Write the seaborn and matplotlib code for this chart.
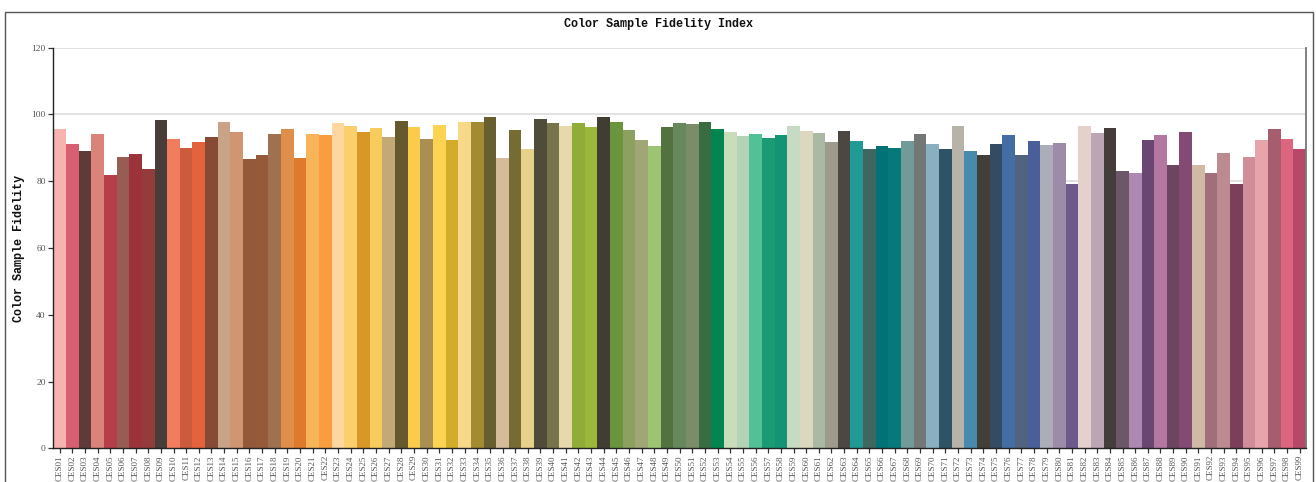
import matplotlib
matplotlib.use("Agg")
import matplotlib.pyplot as plt
import seaborn as sns
import pandas as pd
from matplotlib.patches import Rectangle

categories = [f"CES{i:02d}" for i in range(1, 100)]

values = [
    95.7, 91.2, 89.0, 94.2, 81.8, 87.2, 88.1, 83.6, 98.4, 92.7,
    90.0, 91.8, 93.3, 97.8, 94.8, 86.6, 87.8, 94.2, 95.7, 86.9,
    94.2, 93.9, 97.5, 96.6, 94.8, 96.0, 93.3, 98.1, 96.3, 92.7,
    96.9, 92.4, 97.8, 97.8, 99.3, 86.9, 95.4, 89.6, 98.7, 97.5,
    96.6, 97.5, 96.3, 99.3, 97.8, 95.4, 92.4, 90.6, 96.3, 97.5,
    97.2, 97.8, 95.7, 94.8, 93.6, 94.2, 93.0, 93.9, 96.6, 95.1,
    94.5, 91.8, 95.1, 92.1, 89.6, 90.6, 90.0, 92.1, 94.2, 91.2,
    89.6, 96.6, 89.0, 87.8, 91.2, 93.9, 87.8, 92.1, 90.9, 91.5,
    79.1, 96.6, 94.5, 96.0, 83.0, 82.4, 92.4, 93.9, 84.8, 94.8,
    84.8, 82.4, 88.4, 79.1, 87.2, 92.4, 95.7, 92.7, 89.6,
]

colors = [
    "#f7b3b0", "#d65f72", "#5e3a39", "#d9837b", "#b63e4a", "#975c53", "#9c323a", "#943b3b", "#473d39", "#f27c5e",
    "#cc5a3c", "#e5623e", "#874a34", "#c8a388", "#d09571", "#93593a", "#955a39", "#a07150", "#e08f4a", "#df792b",
    "#f8b458", "#f99d40", "#fdd6a0", "#fbd06c", "#d99728", "#f7cb5c", "#c2a975", "#67592e", "#fbcb4c", "#a98f52",
    "#fcd452", "#d3ac2c", "#f8d98a", "#a38b32", "#685f31", "#d4bc9a", "#756c33", "#e6d28b", "#4f4c3a", "#77734a",
    "#e7d9ac", "#92ac3a", "#9db73b", "#413d33", "#6b943e", "#8ca160", "#a1a676", "#9cc472", "#527340", "#67875d",
    "#7a8c68", "#396c41", "#028550", "#c9ddbb", "#b4d2b6", "#52c196", "#1a9b73", "#149474", "#c7dbc3", "#dcd7bf",
    "#aab9a3", "#9e9b8e", "#4d4743", "#209a94", "#3f665f", "#017275", "#08797b", "#729a99", "#737877", "#89afc0",
    "#2e5365", "#b7b3a8", "#488aad", "#433f38", "#344b64", "#446ea3", "#526380", "#4a5f99", "#acadb8", "#9c8ca9",
    "#6e5a8a", "#e4d1cb", "#bca5b5", "#453c3c", "#6b5767", "#ad88b2", "#6a4672", "#b377a1", "#6e4561", "#834a73",
    "#d0baa6", "#a06f7b", "#bb8b91", "#7b3f5c", "#cf8e9a", "#e7a5ab", "#a65d6e", "#dc657f", "#b84868",
]

yticks = [0, 20, 40, 60, 80, 100, 120]

sns.set_style("white")
plt.rcParams["font.family"] = ["Liberation Serif", "DejaVu Serif"]

df = pd.DataFrame({"sample": categories, "fidelity": values})

fig = plt.figure(figsize=(13.16, 4.82), dpi=100)
ax = fig.add_axes([53.3 / 1316, 1 - 448.3 / 482, (1306 - 53.3) / 1316, (448.3 - 47.7) / 482])

sns.barplot(data=df, x="sample", y="fidelity", hue="sample", palette=colors,
            width=1.0, saturation=1, legend=False, ax=ax, edgecolor="none", zorder=2)

ax.set_xlim(-0.5, len(categories) - 0.5)
ax.set_ylim(0, 120)
ax.set_yticks(yticks)
ax.yaxis.grid(True, color="#dddddd", linewidth=1.2, zorder=0)
ax.set_axisbelow(True)

for lab in ax.get_xticklabels():
    lab.set_rotation(90)
ax.tick_params(axis="x", labelsize=6.5, colors="#333333", length=3.5, width=0.9,
               labelcolor="#555555", pad=1.5, bottom=True)
ax.tick_params(axis="y", labelsize=6.8, colors="#333333", length=3.5, width=0.9,
               labelcolor="#555555", pad=2, left=True)

ax.spines["top"].set_visible(False)
ax.spines["right"].set_color("#777777")
ax.spines["right"].set_linewidth(1.3)
ax.spines["left"].set_color("#222222")
ax.spines["left"].set_linewidth(1.0)
ax.spines["bottom"].set_color("#222222")
ax.spines["bottom"].set_linewidth(1.0)

ax.set_xlabel("")
ax.set_ylabel("Color Sample Fidelity", family=["Liberation Mono", "DejaVu Sans Mono"],
              fontweight="bold", fontsize=8.5, color="#111111")
ax.yaxis.set_label_coords(-0.0222, 0.5)

fig.text(0.5, 1 - 24 / 482, "Color Sample Fidelity Index",
         family=["Liberation Mono", "DejaVu Sans Mono"], fontweight="bold",
         fontsize=8.5, color="#111111", ha="center", va="center")

border = Rectangle((4.8 / 1316, -0.05), (1312.5 - 4.8) / 1316, 1.05 - 12.2 / 482,
                   transform=fig.transFigure, fill=False, edgecolor="#555555",
                   linewidth=1.0, clip_on=False)
fig.patches.append(border)

fig.savefig("out.png", dpi=100)
